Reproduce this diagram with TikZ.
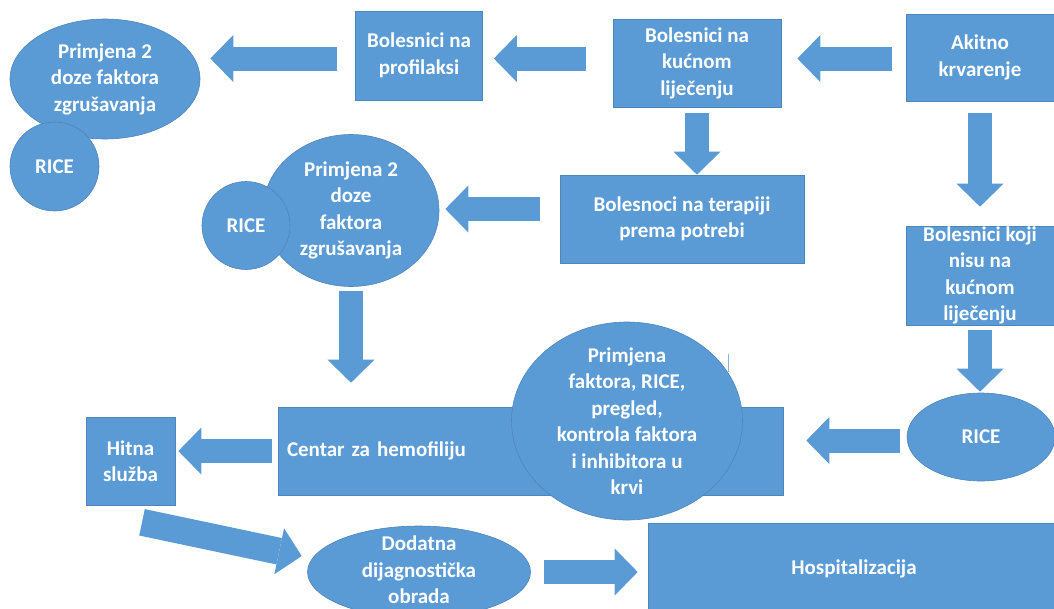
\documentclass[tikz,border=0pt]{standalone}
\usepackage{fontspec}
\setmainfont{Carlito}
\usetikzlibrary{arrows.meta, shapes.geometric, calc}
\definecolor{boxblue}{RGB}{91,155,213}
\definecolor{boxedge}{RGB}{78,134,186}

\begin{document}
\begin{tikzpicture}[
    x=1pt, y=-1pt,
    box/.style={rectangle, draw=boxedge, line width=0.6pt, fill=boxblue, inner sep=0pt, text=white, font=\bfseries\fontsize{21}{26.5}\selectfont, align=center},
    oval/.style={ellipse, draw=boxedge, line width=0.6pt, fill=boxblue, inner sep=0pt},
    txt/.style={text=white, font=\bfseries\fontsize{21}{26.5}\selectfont, align=center, inner sep=0pt},
    barrow/.style={draw=boxblue, line width=24pt, -{Triangle[width=47pt, length=23pt, line width=0pt]}} % block arrow
]
\useasboundingbox (0,0) rectangle (1054,608);

% Top row
\node[box, minimum width=148pt, minimum height=87pt] (akitno) at (980,57.5) {Akitno\\krvarenje};
\node[box, minimum width=168pt, minimum height=88pt] (kucno) at (697,63) {Bolesnici na\\kućnom\\liječenju};
\node[box, minimum width=127pt, minimum height=89pt] (profil) at (419,55.5) {Bolesnici na\\profilaksi};
\node[oval, minimum width=190pt, minimum height=120pt, label={[txt]center:{Primjena 2\\doze faktora\\zgrušavanja}}] (doze1) at (105,79) {};
\node[oval, minimum size=89pt, label={[txt]center:RICE}] (rice1) at (54.5,166.5) {};

% Middle row
\node[box, minimum width=244pt, minimum height=88pt] (terapija) at (682,219) {Bolesnoci na terapiji\\prema potrebi};
\node[box, minimum width=148pt, minimum height=99pt] (nisu) at (980,275.5) {Bolesnici koji\\nisu na\\kućnom\\liječenju};
\node[oval, minimum width=176pt, minimum height=152pt, label={[txt]center:{Primjena 2\\doze\\faktora\\zgrušavanja}}] (doze2) at (351,210.5) {};
\node[oval, minimum size=88pt, label={[txt]center:RICE}] (rice2) at (246,225.5) {};

% Centre for haemophilia
\node[box, minimum width=505pt, minimum height=88pt, text width=487pt, inner xsep=9pt, align=left] (centar) at (530.5,451) {Centar za hemofiliju};
\node[oval, minimum width=231pt, minimum height=198pt, label={[txt]center:{Primjena\\faktora, RICE,\\pregled,\\kontrola faktora\\i inhibitora u\\krvi}}] (faktori) at (627,421) {};
\draw[boxblue!75, line width=0.8pt] (728,354) -- (728,372);
\node[oval, minimum width=148pt, minimum height=88pt, label={[txt]center:RICE}] (rice3) at (981,437) {};
\node[box, minimum width=89pt, minimum height=88pt] (hitna) at (130.5,461) {Hitna\\služba};

% Bottom row
\node[oval, minimum width=223pt, minimum height=92pt, label={[txt, yshift=2pt]center:{Dodatna\\dijagnostička\\obrada}}] (dodatna) at (419,572) {};
\node[box, minimum width=412pt, minimum height=92pt] (hosp) at (854,569) {Hospitalizacija};

% Block arrows
\draw[barrow, shorten <=14pt, shorten >=16pt] ($(akitno.west)+(0,1)$) -- ($(akitno.west -| kucno.east)+(0,1)$);
\draw[barrow, shorten <=27pt, shorten >=11pt] ($(profil.east -| kucno.west)+(0,3)$) -- ($(profil.east)+(0,3)$);
\draw[barrow, shorten <=18pt] ($(profil.west)+(0,3)$) -- ($(profil.west -| doze1.east)+(10,3)$);
\draw[barrow, shorten <=6pt] (kucno.south) -- (kucno.south |- terapija.north);
\draw[barrow, shorten <=12pt, shorten >=19pt] (akitno.south) -- (akitno.south |- nisu.north);
\draw[barrow, shorten <=20pt, shorten >=6pt] ($(terapija.west)+(0,-10)$) -- ($(terapija.west -| doze2.east)+(0,-10)$);
\draw[barrow, shorten <=4pt, shorten >=24pt] (doze2.south) -- (doze2.south |- centar.north);
\draw[barrow, shorten <=6pt, shorten >=3pt] (centar.west) -- (centar.west -| hitna.east);
\draw[barrow, shorten <=7pt, shorten >=23pt] ($(rice3.west)+(0,3.5)$) -- ($(rice3.west -| centar.east)+(0,3.5)$);
\draw[barrow, shorten <=5pt, shorten >=1pt] (nisu.south) -- (nisu.south |- rice3.north);
\draw[barrow, line width=27pt] ($(hitna.south)+(11.5,17)$) -- ($(dodatna.west)+(-5.5,-16)$);
\draw[barrow, shorten <=13pt, shorten >=10pt] (dodatna.east) -- (dodatna.east -| hosp.west);

\end{tikzpicture}
\end{document}
